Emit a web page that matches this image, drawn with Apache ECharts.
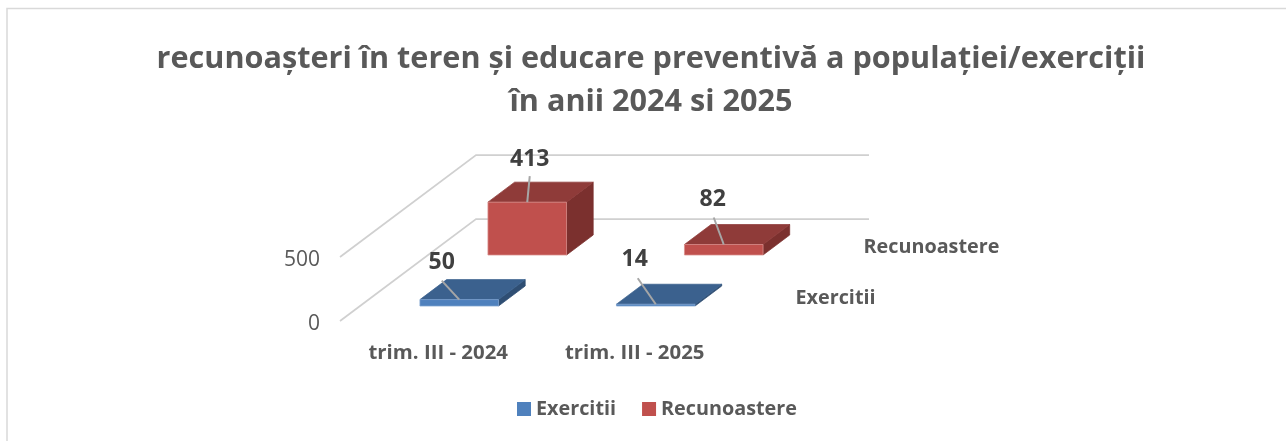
<!DOCTYPE html>
<html>
<head>
<meta charset="utf-8">
<script src="https://cdn.jsdelivr.net/npm/echarts@6/dist/echarts.min.js"></script>
<style>
  html, body { margin: 0; background: #fff; }
  #chart { width: 1286px; height: 441px; }
</style>
</head>
<body>
<div id="chart"></div>
<script>
const titleText = "recunoașteri în teren și educare preventivă a populației/exerciții\nîn anii 2024 si 2025";
const categories = ["trim. III - 2024", "trim. III - 2025"];
const seriesNames = ["Exercitii", "Recunoastere"];
const exercitii = [50, 14];
const recunoastere = [413, 82];
const yTicks = [0, 500];

const FONT = "'Open Sans', sans-serif";

// fake 3d: depth is a pixel shift up and to the right of the front plane
const depthX = 68;
const depthY = -51;
const barShare = 0.4;

const palette = [
  { front: "#4f81bd", top: "#3b618e", side: "#2f4e73", edge: "#7fa3d0" },
  { front: "#c0504d", top: "#8f3b39", side: "#7b302e", edge: "#d98f8c" },
];

// where each value label and its leader sit, relative to the middle of the bar's top front edge
const labelOffsets = [
  [[-17.5, -37, -17.5, -19], [-21, -45, -18, -26]],
  [[2.5, -43, 2.5, -26], [-11, -45, -10, -27]],
];

function renderWalls(params, api) {
  const cs = params.coordSys;
  const y = api.coord([0, api.value(0)])[1];
  return {
    type: "polyline",
    shape: {
      points: [
        [cs.x, y],
        [cs.x + depthX * 2, y + depthY * 2],
        [cs.x + cs.width + depthX * 2, y + depthY * 2],
      ],
    },
    style: { fill: "none", stroke: "#d0d0d0", lineWidth: 1.75 },
  };
}

function poly(points, fill, stroke) {
  return {
    type: "polygon",
    shape: { points: points },
    style: { fill: fill, stroke: stroke || fill, lineWidth: 0.75 },
  };
}

function makeBarRenderer(row) {
  return function (params, api) {
    const base = api.coord([api.value(0), 0]);
    const topPt = api.coord([api.value(0), api.value(1)]);
    const w = api.size([1, 0])[0] * barShare;
    const c = palette[row];
    // the bar stands in the middle of its row
    const x0 = base[0] - w / 2 + depthX * (row + 0.294) + 1;
    const x1 = x0 + w;
    const yb = base[1] + depthY * (row + 0.294);
    const yt = topPt[1] + depthY * (row + 0.294);
    const dx = depthX * 0.392;
    const dy = depthY * 0.392;
    const off = labelOffsets[row][params.dataIndex];
    const mid = (x0 + x1) / 2;
    const children = [
      poly([[x1, yb], [x1 + dx, yb + dy], [x1 + dx, yt + dy], [x1, yt]], c.side),
      poly([[x0, yt], [x1, yt], [x1 + dx, yt + dy], [x0 + dx, yt + dy]], c.top),
      poly([[x0, yb], [x1, yb], [x1, yt], [x0, yt]], c.front, c.edge),
      {
        type: "line",
        shape: { x1: mid + off[2], y1: yt + off[3], x2: mid, y2: yt },
        style: { stroke: "#a6a6a6", lineWidth: 2 },
      },
      {
        type: "text",
        style: {
          x: mid + off[0],
          y: yt + off[1],
          text: String(api.value(1)),
          align: "center",
          verticalAlign: "middle",
          font: "bold 23px " + FONT,
          fill: "#404040",
        },
      },
    ];
    // series name at the end of the depth axis, drawn once per row
    if (params.dataIndex === 1) {
      const cs = params.coordSys;
      children.push({
        type: "text",
        style: {
          x: cs.x + cs.width + depthX * (row + 0.294) + 42.5,
          y: base[1] + depthY * (row + 0.294) - 7.5,
          text: seriesNames[row],
          align: "left",
          verticalAlign: "middle",
          font: "bold 19.8px " + FONT,
          fill: "#595959",
        },
      });
    }
    return { type: "group", children: children };
  };
}

const chart = echarts.init(document.getElementById("chart"), null, { renderer: "canvas" });

const option = {
  animation: false,
  backgroundColor: "#ffffff",
  textStyle: { fontFamily: FONT },
  title: {
    text: titleText,
    left: 646,
    top: 33,
    textAlign: "center",
    textStyle: { fontFamily: FONT, fontWeight: "bold", fontSize: 30.6, lineHeight: 43, color: "#595959" },
  },
  legend: {
    left: 512,
    top: 394,
    itemWidth: 14,
    itemHeight: 14,
    itemGap: 26,
    icon: "rect",
    data: seriesNames,
    textStyle: { fontFamily: FONT, fontWeight: "bold", fontSize: 19.8, color: "#595959" },
  },
  graphic: [
    {
      type: "rect",
      silent: true,
      z: -10,
      shape: { x: 7, y: 8.5, width: 1300, height: 460 },
      style: { fill: "none", stroke: "#d9d9d9", lineWidth: 1.5 },
    },
  ],
  grid: { left: 340, top: 257, width: 393, height: 64 },
  xAxis: {
    type: "category",
    data: categories,
    axisLine: { show: false },
    axisTick: { show: false },
    axisLabel: { margin: 22, fontSize: 20.4, fontWeight: "bold", color: "#595959", fontFamily: FONT },
  },
  yAxis: {
    type: "value",
    min: 0,
    max: 500,
    interval: 500,
    axisLine: { show: false },
    axisTick: { show: false },
    splitLine: { show: false },
    axisLabel: {
      margin: 20,
      formatter: "{tick|{value}}",
      rich: { tick: { fontSize: 21, color: "#595959", fontFamily: FONT, padding: [6, 0, 0, 0] } },
    },
  },
  series: [
    {
      type: "custom",
      name: "walls",
      silent: true,
      z: 1,
      renderItem: renderWalls,
      data: yTicks.map((v) => [v]),
      encode: { y: 0 },
    },
    {
      type: "custom",
      name: seriesNames[1],
      z: 2,
      itemStyle: { color: palette[1].front },
      renderItem: makeBarRenderer(1),
      data: recunoastere.map((v, i) => [i, v]),
      encode: { x: 0, y: 1 },
    },
    {
      type: "custom",
      name: seriesNames[0],
      z: 3,
      itemStyle: { color: palette[0].front },
      renderItem: makeBarRenderer(0),
      data: exercitii.map((v, i) => [i, v]),
      encode: { x: 0, y: 1 },
    },
  ],
};

chart.setOption(option);
</script>
</body>
</html>
